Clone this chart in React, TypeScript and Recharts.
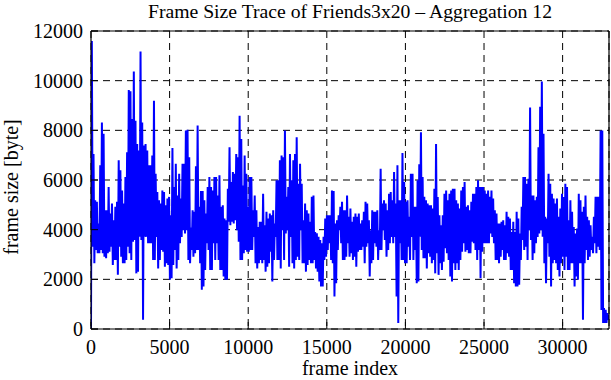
import { LineChart, Line, XAxis, YAxis, CartesianGrid, Label } from "recharts";

// upper and lower envelope of the trace, one pair per ~106 frames
const peaks = [
  11600, 7050, 5180, 5120, 4250, 6590, 8320, 7860, 4780, 4780,
  5720, 4650, 5050, 4380, 4920, 5120, 6790, 6390, 5580, 5050,
  6120, 7120, 9620, 9570, 8460, 10370, 8390, 7450, 7190, 11170,
  8320, 7390, 7450, 7190, 6590, 6590, 6990, 9190, 6250, 5520,
  5180, 5050, 5580, 5520, 4980, 5250, 5320, 4580, 7290, 5720,
  6650, 5380, 6250, 5250, 6650, 6650, 7990,
  8020, 6920, 4090, 4780, 4720, 6550, 8190, 4920, 5560, 5560,
  5180, 4650, 5720, 6120, 5720, 5580, 6120, 6120, 5380, 6190,
  4920, 4980, 4450, 4380, 5650, 7320, 5920, 6320, 6250, 7050,
  6920, 8590, 7650, 5780, 6990, 6250, 4920, 6120, 6120, 4780,
  5380, 4780, 4110, 4320, 4320, 5450, 4180, 4720, 4450, 4650,
  4580, 4780, 4250, 5990, 5990, 6790, 6990, 6920, 7990, 5320,
  5720, 7050, 5990,
  6790, 7050, 7720, 5850, 6650, 5850, 4380, 5050, 4780, 4650,
  4320, 5320, 5380, 3910, 3850, 3710, 3580, 3450, 3710, 4450,
  4580, 4580, 4580, 5580, 5560, 4250, 4380, 4580, 4920, 5120,
  4780, 4780, 5380, 4520, 4850, 4320, 4520, 4650, 4520, 4650,
  4250, 4380, 4720, 5120, 5050, 4380, 3980, 4780, 4720, 4720,
  4780, 3980, 6450, 5050, 5180, 5050, 4780, 5450, 5520, 5180,
  6320, 5050, 6590,
  5180, 5180, 7090, 5920, 5120, 5180, 4520, 6250, 6250, 4920,
  4920, 5990, 6630, 7920, 6120, 5320, 5180, 5050, 4980, 4980,
  4850, 5650, 7450, 5320, 4580, 4180, 4580, 5450, 5580, 5180,
  5450, 5580, 5650, 5650, 5180, 5050, 4850, 5580, 5720, 5920,
  4920, 4980, 4780, 5120, 5450, 5450, 5720, 5990, 5720, 5720,
  5720, 5580, 5450, 5580, 5320, 5580, 5250, 4780, 4650, 4250,
  4250, 4320, 4380,
  4180, 4720, 4520, 4450, 3910, 4320, 3910, 4720, 4450, 3850,
  4920, 6120, 6120, 5850, 6050, 8920, 5380, 5380, 5180, 5320,
  7320, 8950, 9970, 7860, 4520, 4450, 6250, 5850, 5450, 5250,
  5050, 5250, 4520, 4850, 5450, 5320, 5850, 5720, 4380, 5180,
  4720, 4110, 3850, 4050, 5450, 5180, 4720, 4920, 5380, 4520,
  4380, 4180, 3710, 4520, 5320, 5320, 5320, 7990, 7990, 840,
  770, 640, 570,
];

const troughs = [
  0, 3310, 2650, 3180, 3050, 3050, 3180, 3050, 2910, 2850,
  3050, 3110, 3310, 2580, 2780, 2780, 2180, 3310, 2910, 2650,
  2650, 2780, 3310, 3050, 2780, 3510, 3580, 2240, 2310, 3710,
  3580, 370, 3710, 3710, 3450, 3450, 3450, 2780, 2780, 3710,
  2440, 2780, 3180, 3110, 2510, 2650, 2580, 1980, 2040, 2580,
  3180, 2440, 2780, 3450, 3710, 3980, 3850,
  3980, 2780, 2650, 3180, 2910, 3050, 3180, 3180, 2650, 1580,
  1710, 2380, 3450, 3180, 2380, 2380, 3450, 2780, 3450, 2780,
  2380, 2380, 2110, 1980, 1980, 4320, 4180, 4320, 4250, 4380,
  3980, 3510, 2780, 2780, 3050, 3180, 3110, 3110, 3180, 3180,
  3710, 2650, 2440, 2650, 2780, 2650, 2780, 2310, 2510, 2650,
  3110, 1910, 2780, 3710, 2780, 2780, 2440, 3980, 2780, 3850,
  3980, 2510, 3710,
  2650, 2440, 2780, 2910, 2780, 3980, 2650, 2650, 2310, 2580,
  2780, 2650, 2650, 2780, 2440, 2310, 1910, 1710, 1710, 2780,
  2910, 3180, 3450, 2780, 2650, 1310, 1840, 3180, 3980, 3450,
  2780, 2780, 2910, 3450, 2910, 3050, 2780, 2910, 2510, 3110,
  3180, 3180, 3310, 2650, 3310, 3450, 2110, 2650, 2780, 3450,
  3310, 2780, 3180, 3180, 3980, 3580, 2910, 3180, 3450, 3710,
  3450, 3710, 1310,
  240, 3450, 2780, 2780, 2650, 2650, 3310, 2780, 3710, 2780,
  3180, 1840, 1910, 3710, 3180, 2850, 2850, 2440, 3050, 2910,
  2650, 2780, 2240, 3050, 2180, 2650, 2380, 2710, 3250, 3050,
  2780, 2110, 1910, 2650, 2380, 2650, 2380, 2780, 3110, 3450,
  3110, 3180, 3050, 3050, 3510, 3450, 3180, 2780, 3180, 2040,
  3110, 3450, 3450, 3450, 3450, 3850, 3710, 3450, 2780, 2780,
  2650, 2910, 3180,
  2780, 2780, 3050, 2910, 2380, 2380, 1840, 1710, 1710, 1780,
  2780, 3580, 3180, 3310, 2780, 3980, 3580, 2780, 3050, 3450,
  3710, 3850, 3980, 3710, 2650, 1840, 3450, 2910, 1710, 2650,
  2780, 2650, 2380, 2110, 2650, 2910, 2380, 2910, 2380, 2380,
  2650, 2650, 1710, 2110, 1980, 2650, 2650, 370, 2650, 3180,
  2780, 2910, 3180, 3050, 3450, 3050, 3310, 3180, 770, 240,
  240, 240, 370,
];

const xTicks = [0, 5000, 10000, 15000, 20000, 25000, 30000];
const yTicks = [0, 2000, 4000, 6000, 8000, 10000, 12000];
const LAST_FRAME = 32950;

const sizes = peaks.flatMap((p, i) => [troughs[i], p]);
const data = sizes.map((size, i) => ({
  frame: (i * LAST_FRAME) / (sizes.length - 1),
  size,
}));

const FONT = '"Liberation Serif", "Times New Roman", serif';
const textStyle = { fontFamily: FONT, fontSize: 20, fill: "#000" };
const titleStyle = { ...textStyle, fontSize: 19.7 };
const axisLine = { stroke: "#000", strokeWidth: 1.2 };
const tickLine = { stroke: "#000", strokeWidth: 1 };

export default function App() {
  return (
    <div style={{ position: "absolute", left: 0, top: 0, width: 611, height: 380, background: "#fff" }}>
      <LineChart width={611} height={380} data={data} margin={{ top: 30, right: 1, bottom: 0, left: 0 }}>
        <CartesianGrid stroke="#000" strokeDasharray="7 5" strokeWidth={1} />
        <XAxis
          dataKey="frame"
          type="number"
          domain={[0, LAST_FRAME]}
          ticks={xTicks}
          interval={0}
          allowDataOverflow
          height={51}
          tickSize={-7}
          tickMargin={18}
          tick={textStyle}
          tickLine={tickLine}
          axisLine={axisLine}
        >
          <Label value="frame index" position="insideBottom" offset={5} style={textStyle} />
        </XAxis>
        <XAxis
          xAxisId="top"
          orientation="top"
          dataKey="frame"
          type="number"
          domain={[0, LAST_FRAME]}
          ticks={xTicks}
          interval={0}
          allowDataOverflow
          height={1}
          tickSize={-7}
          tick={false}
          tickLine={tickLine}
          axisLine={axisLine}
        >
          <Label value="Frame Size Trace of Friends3x20 – Aggregation 12" position="top" offset={12} style={titleStyle} />
        </XAxis>
        <YAxis
          type="number"
          domain={[0, 12000]}
          ticks={yTicks}
          interval={0}
          allowDataOverflow
          width={91}
          tickSize={-7}
          tickMargin={15}
          tick={textStyle}
          tickLine={tickLine}
          axisLine={axisLine}
        >
          <Label
            content={() => (
              <text x={18} y={187} transform="rotate(-90 18 187)" textAnchor="middle" style={textStyle}>
                frame size [byte]
              </text>
            )}
          />
        </YAxis>
        <YAxis
          yAxisId="right"
          orientation="right"
          type="number"
          domain={[0, 12000]}
          ticks={yTicks}
          interval={0}
          allowDataOverflow
          width={1}
          tickSize={-7}
          tick={false}
          tickLine={tickLine}
          axisLine={axisLine}
        />
        <Line
          type="linear"
          dataKey="size"
          stroke="#0000ff"
          strokeWidth={2}
          dot={false}
          isAnimationActive={false}
        />
      </LineChart>
    </div>
  );
}
